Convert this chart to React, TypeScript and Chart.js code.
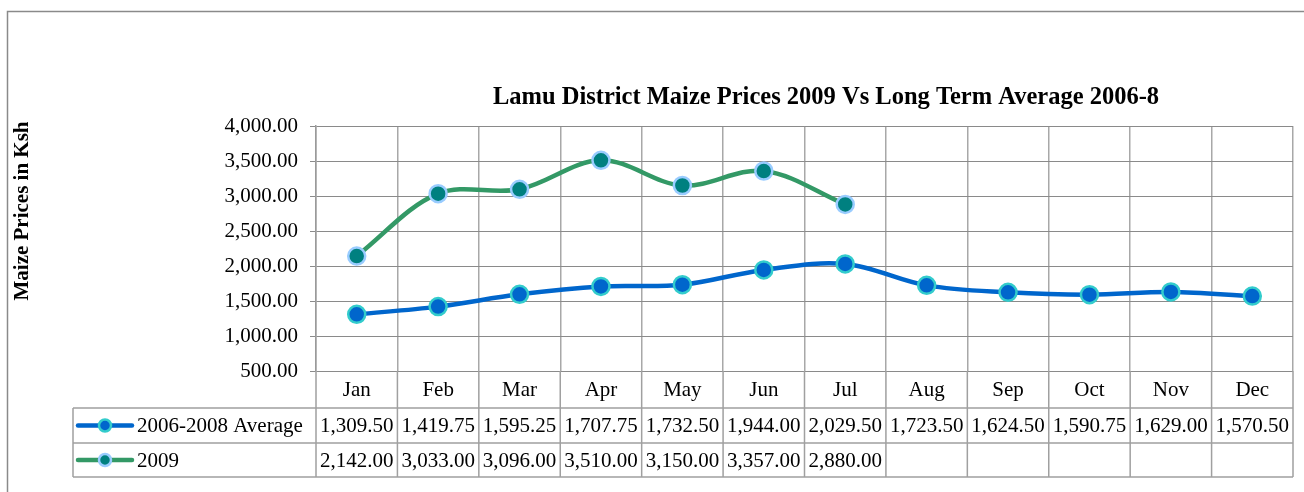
import { useEffect, useRef } from "react";
import Chart from "chart.js/auto";

const months = ["Jan", "Feb", "Mar", "Apr", "May", "Jun", "Jul", "Aug", "Sep", "Oct", "Nov", "Dec"];
const avgValues = [1309.5, 1419.75, 1595.25, 1707.75, 1732.5, 1944.0, 2029.5, 1723.5, 1624.5, 1590.75, 1629.0, 1570.5];
const values2009: (number | null)[] = [2142.0, 3033.0, 3096.0, 3510.0, 3150.0, 3357.0, 2880.0, null, null, null, null, null];
const seriesNames = ["2006-2008 Average", "2009"];
const chartTitle = "Lamu District Maize Prices 2009 Vs Long Term Average 2006-8";
const yAxisTitle = "Maize Prices in Ksh";
const yMin = 500;
const yMax = 4000;
const yStep = 500;

const FONT = "'Liberation Serif', 'Times New Roman', serif";
const BLUE = "#0066CC";
const BLUE_EDGE = "#33CCCC";
const GREEN = "#339966";
const GREEN_FILL = "#008080";
const GREEN_EDGE = "#99CCFF";

const fmt = (v: number) =>
  v.toLocaleString("en-US", { minimumFractionDigits: 2, maximumFractionDigits: 2 });

const tablePlugin = {
  id: "dataTable",
  afterDraw(chart: any) {
    const ctx = chart.ctx as CanvasRenderingContext2D;
    const { right, bottom } = chart.chartArea;
    const xs = chart.scales.x;
    const n = months.length;
    const colW = (right - chart.chartArea.left) / n;
    const catBottom = bottom + 37;
    const r1 = catBottom + 35;
    const r2 = r1 + 34;
    const tableLeft = 73;

    ctx.save();
    // outer frame
    ctx.strokeStyle = "#8a8a8a";
    ctx.lineWidth = 1.5;
    ctx.strokeRect(7.5, 11.5, 1400, 600);

    // table lines
    ctx.strokeStyle = "#a0a0a0";
    ctx.lineWidth = 1.5;
    ctx.beginPath();
    for (let i = 0; i <= n; i++) {
      const px = xs.getPixelForValue(i) - colW / 2;
      const xx = i === n ? right : px;
      ctx.moveTo(xx, bottom);
      ctx.lineTo(xx, r2);
    }
    ctx.moveTo(tableLeft, catBottom);
    ctx.lineTo(tableLeft, r2);
    [catBottom, r1, r2].forEach((yy) => {
      ctx.moveTo(tableLeft, yy);
      ctx.lineTo(right, yy);
    });
    ctx.stroke();

    // category labels and values
    ctx.fillStyle = "#000";
    ctx.font = `21px ${FONT}`;
    ctx.textAlign = "center";
    ctx.textBaseline = "middle";
    months.forEach((m, i) => {
      const cx = xs.getPixelForValue(i);
      ctx.fillText(m, cx, (bottom + catBottom) / 2 + 1);
      ctx.fillText(fmt(avgValues[i]), cx, (catBottom + r1) / 2 + 1);
      const v = values2009[i];
      if (v !== null) ctx.fillText(fmt(v), cx, (r1 + r2) / 2 + 1);
    });

    // legend keys
    const keys = [
      { y: (catBottom + r1) / 2, line: BLUE, fill: BLUE, edge: BLUE_EDGE, name: seriesNames[0] },
      { y: (r1 + r2) / 2, line: GREEN, fill: GREEN_FILL, edge: GREEN_EDGE, name: seriesNames[1] },
    ];
    keys.forEach((k) => {
      ctx.strokeStyle = k.line;
      ctx.lineWidth = 4.5;
      ctx.lineCap = "round";
      ctx.beginPath();
      ctx.moveTo(78, k.y);
      ctx.lineTo(132, k.y);
      ctx.stroke();
      ctx.beginPath();
      ctx.arc(105, k.y, 6, 0, Math.PI * 2);
      ctx.fillStyle = k.fill;
      ctx.fill();
      ctx.lineWidth = 2.5;
      ctx.strokeStyle = k.edge;
      ctx.stroke();
      ctx.fillStyle = "#000";
      ctx.textAlign = "left";
      ctx.fillText(k.name, 137, k.y + 1);
    });

    // chart title
    ctx.font = `bold 24.5px ${FONT}`;
    ctx.textAlign = "center";
    ctx.fillText(chartTitle, 826, 98);

    // y axis title
    ctx.font = `bold 21px ${FONT}`;
    ctx.translate(23, 211);
    ctx.rotate(-Math.PI / 2);
    ctx.fillText(yAxisTitle, 0, 0);
    ctx.restore();
  },
};

export default function App() {
  const ref = useRef<HTMLCanvasElement>(null);
  useEffect(() => {
    if (!ref.current) return;
    const chart = new Chart(ref.current, {
      type: "line",
      data: {
        labels: months,
        datasets: [
          {
            label: seriesNames[0],
            data: avgValues,
            borderColor: BLUE,
            borderWidth: 4.5,
            pointBackgroundColor: BLUE,
            pointBorderColor: BLUE_EDGE,
            pointBorderWidth: 2.5,
            pointRadius: 8.5,
            tension: 0.35,
          },
          {
            label: seriesNames[1],
            data: values2009,
            borderColor: GREEN,
            borderWidth: 4.5,
            pointBackgroundColor: GREEN_FILL,
            pointBorderColor: GREEN_EDGE,
            pointBorderWidth: 2.5,
            pointRadius: 8.5,
            tension: 0.35,
          },
        ],
      },
      options: {
        responsive: false,
        animation: false,
        devicePixelRatio: 1,
        layout: { padding: { top: 126, bottom: 121, left: 0, right: 7 } },
        plugins: {
          legend: { display: false },
          tooltip: { enabled: false },
          title: { display: false },
        },
        scales: {
          x: {
            offset: true,
            grid: { offset: true, color: "#a8a8a8", lineWidth: 1.5, drawTicks: false },
            ticks: { display: false },
            border: { display: false },
            afterFit: (s: any) => {
              s.height = 0;
            },
          },
          y: {
            min: yMin,
            max: yMax,
            ticks: {
              stepSize: yStep,
              callback: (v: any) => fmt(Number(v)),
              font: { family: FONT, size: 21 },
              color: "#000",
              padding: 12,
            },
            grid: { color: "#8a8a8a", tickLength: 6 },
            border: { color: "#9a9a9a", width: 1.5 },
            afterFit: (s: any) => {
              s.width = 316;
            },
          },
        },
      },
      plugins: [tablePlugin],
    });
    return () => chart.destroy();
  }, []);
  return (
    <div style={{ position: "fixed", left: 0, top: 0, width: 1304, height: 492, background: "#fff" }}>
      <canvas ref={ref} width={1304} height={492} />
    </div>
  );
}
